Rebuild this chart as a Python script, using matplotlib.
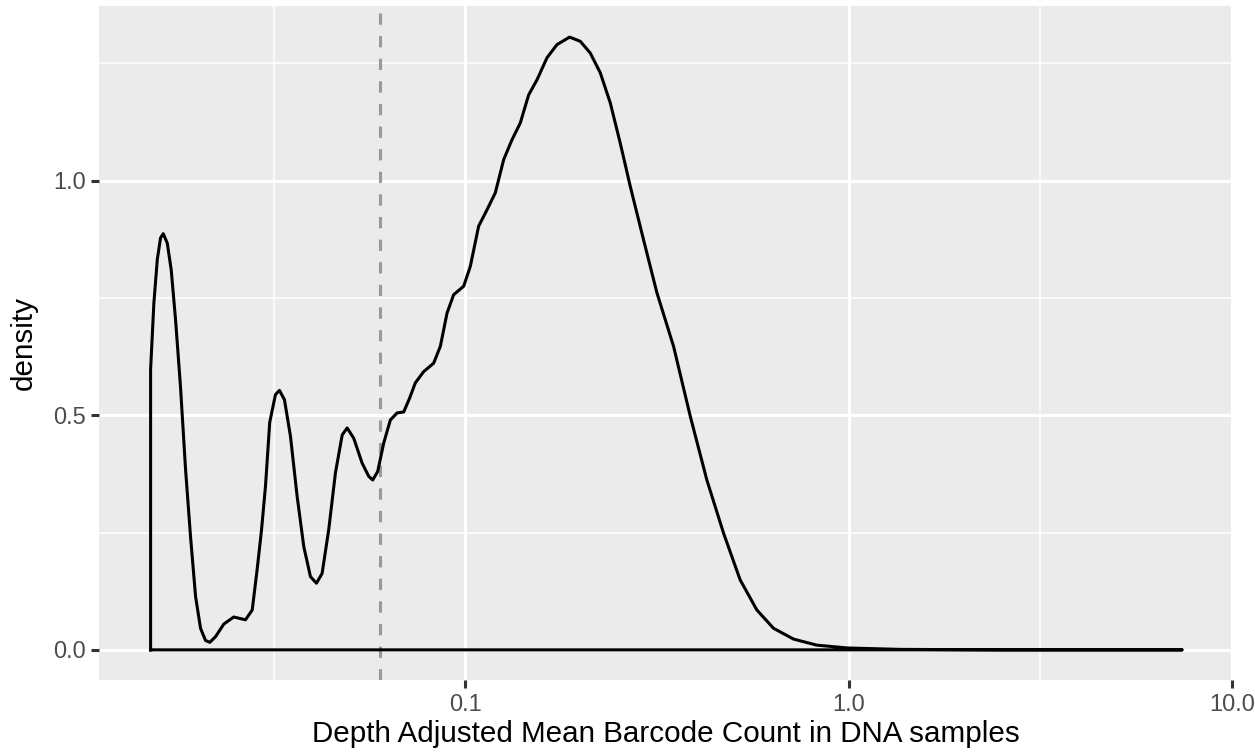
import numpy as np
import matplotlib
matplotlib.use('Agg')
import matplotlib.pyplot as plt
from matplotlib.ticker import FixedLocator, NullFormatter

# density curve (x in data units, log axis)
density_x = [0.01509, 0.01539, 0.01571, 0.01602, 0.01628, 0.01668, 0.01708, 0.01753,
             0.01806, 0.01862, 0.01918, 0.01977, 0.02037, 0.02099, 0.02154, 0.02229,
             0.02343, 0.02487, 0.02669, 0.02779, 0.02862, 0.02938, 0.03009, 0.03087,
             0.03195, 0.03273, 0.03373, 0.03497, 0.03640, 0.03788, 0.03943, 0.04088,
             0.04229, 0.04400, 0.04581, 0.04771, 0.04915, 0.05114, 0.05378, 0.05594,
             0.05731, 0.05905, 0.06124, 0.06373, 0.06636, 0.06904, 0.07158, 0.07403,
             0.07784, 0.08266, 0.08605, 0.08959, 0.09322, 0.09899, 0.1030, 0.1083,
             0.1139, 0.1197, 0.1259, 0.1323, 0.1391, 0.1463, 0.1538, 0.1633,
             0.1734, 0.1871, 0.1995, 0.2118, 0.2249, 0.2388, 0.2536, 0.2693,
             0.2917, 0.3161, 0.3493, 0.3862, 0.4267, 0.4716, 0.5213, 0.5762,
             0.6368, 0.7179, 0.8263, 0.9929, 1.362, 2.48, 7.41]
density_y = [0.597, 0.739, 0.832, 0.878, 0.887, 0.867, 0.810, 0.704,
             0.561, 0.384, 0.242, 0.114, 0.046, 0.020, 0.016, 0.028,
             0.055, 0.070, 0.064, 0.085, 0.171, 0.255, 0.348, 0.485,
             0.544, 0.553, 0.533, 0.455, 0.327, 0.220, 0.156, 0.142,
             0.163, 0.256, 0.377, 0.458, 0.473, 0.451, 0.398, 0.370,
             0.362, 0.380, 0.441, 0.490, 0.505, 0.507, 0.537, 0.569,
             0.593, 0.611, 0.647, 0.718, 0.757, 0.775, 0.817, 0.903,
             0.938, 0.974, 1.045, 1.087, 1.123, 1.183, 1.215, 1.262,
             1.290, 1.306, 1.297, 1.272, 1.230, 1.166, 1.080, 0.988,
             0.874, 0.761, 0.647, 0.498, 0.362, 0.249, 0.149, 0.085,
             0.046, 0.023, 0.010, 0.004, 0.001, 0.0, 0.0]

cutoff = 0.06
x_ticks = [0.1, 1.0, 10.0]
x_tick_labels = ['0.1', '1.0', '10.0']
y_ticks = [0.0, 0.5, 1.0]
y_tick_labels = ['0.0', '0.5', '1.0']

plt.rcParams['font.family'] = ['Liberation Sans', 'DejaVu Sans']

fig = plt.figure(figsize=(12.55, 7.52), dpi=100)
ax = fig.add_axes([0.0789, 0.0951, 0.9040, 0.8963])
ax.set_facecolor('#EBEBEB')

# closed outline like geom_density
px = [density_x[0]] + density_x + [density_x[0]]
py = [0.0] + density_y + [0.0]
ax.plot(px, py, color='black', linewidth=2.2, solid_joinstyle='round', zorder=3)

ax.axvline(cutoff, color='#999999', linewidth=2.2, linestyle=(0, (3.7, 3.7)), zorder=2)

ax.set_xscale('log')
xmin, xmax = np.log10(density_x[0]), np.log10(density_x[-1])
pad = 0.05 * (xmax - xmin)
ax.set_xlim(10 ** (xmin - pad), 10 ** (xmax + pad))
ymax = max(density_y)
ax.set_ylim(-0.05 * ymax, ymax * 1.05)

ax.xaxis.set_major_locator(FixedLocator(x_ticks))
ax.set_xticklabels(x_tick_labels)
ax.xaxis.set_minor_locator(FixedLocator([10 ** -1.5, 10 ** 0.5]))
ax.xaxis.set_minor_formatter(NullFormatter())
ax.set_yticks(y_ticks)
ax.set_yticklabels(y_tick_labels)
ax.yaxis.set_minor_locator(FixedLocator([0.25, 0.75, 1.25]))

ax.grid(True, which='major', color='white', linewidth=2.2)
ax.grid(True, which='minor', color='white', linewidth=1.1)
ax.set_axisbelow(True)

for s in ax.spines.values():
    s.set_visible(False)

ax.tick_params(which='major', length=5.5, width=2.2, color='#333333',
               labelsize=17, labelcolor='#4D4D4D', pad=4.0)
ax.tick_params(which='minor', length=0)

ax.set_xlabel('Depth Adjusted Mean Barcode Count in DNA samples', fontsize=21.3, labelpad=3)
ax.set_ylabel('density', fontsize=21.3, labelpad=11)

fig.savefig('out.png', dpi=100)
